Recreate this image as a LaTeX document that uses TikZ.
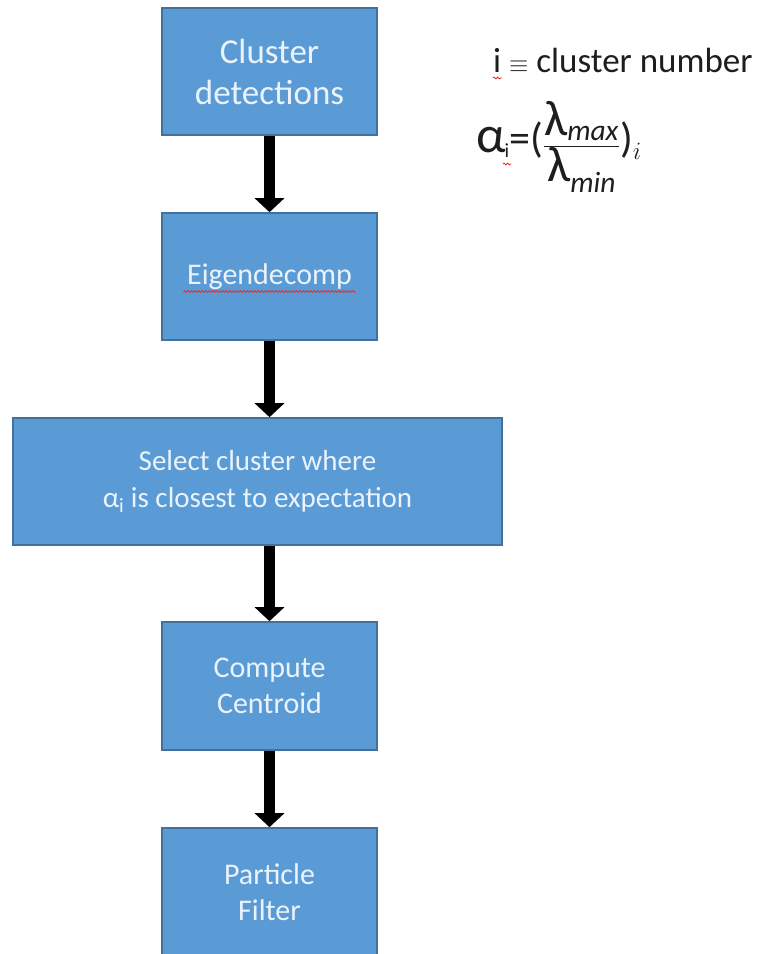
\documentclass[tikz,border=0pt]{standalone}
\usepackage{fontspec}
\setmainfont{Carlito}
\usetikzlibrary{arrows.meta,decorations.pathmorphing}
\definecolor{boxfill}{HTML}{5B9BD5}
\definecolor{boxline}{HTML}{41719C}
\definecolor{boxtext}{HTML}{EAF3FC}
\definecolor{legendtext}{HTML}{1E1E1E}
\definecolor{spellred}{HTML}{E03030}
\tikzset{
  stepbox/.style={draw=boxline, line width=1.6pt, fill=boxfill, text=boxtext,
    align=center, inner sep=0pt, font=\fontsize{30}{36}\selectfont},
  flow/.style={draw=black, line width=11pt,
    -{Triangle[width=29pt,length=14pt]}},
  spell/.style={draw=spellred, line width=0.9pt, decorate,
    decoration={snake, amplitude=0.9pt, segment length=3.5pt}}
}
\begin{document}
\begin{tikzpicture}[x=1pt,y=-1pt]
\useasboundingbox (0,0) rectangle (766,954);
\begin{scope}
\clip (0,0) rectangle (766,954);
\node[stepbox, minimum width=215pt, minimum height=127pt,
      font=\fontsize{35}{41}\selectfont] (n1) at (269.5,71.5) {Cluster\\detections};
\node[stepbox, minimum width=215pt, minimum height=127pt] (n2) at (269.5,276.5) {Eigendecomp};
\node[stepbox, minimum width=489pt, minimum height=127pt,
      font=\fontsize{29}{37}\selectfont] (n3) at (257.5,481.5)
      {Select cluster where\\α\textsubscript{i} is closest to expectation};
\node[stepbox, minimum width=215pt, minimum height=128pt] (n4) at (269.5,686) {Compute\\Centroid};
\node[stepbox, minimum width=215pt, minimum height=128pt] (n5) at (269.5,892) {Particle\\Filter};
\end{scope}
\draw[spell] ([xshift=-86pt,yshift=-15pt]n2.center) -- ([xshift=86pt,yshift=-15pt]n2.center);
\draw[flow] (n1.south) -- (n2.north);
\draw[flow] (n2.south) -- (n3.north -| n2.south);
\draw[flow] (n3.south -| n4.north) -- (n4.north);
\draw[flow] (n4.south) -- (n5.north);
\node[anchor=base west, inner sep=0pt, text=legendtext,
      font=\fontsize{35}{40}\selectfont] (leg) at (493,72) {i {\fontsize{40}{40}\selectfont\(\equiv\)} cluster number};
\draw[spell] ([yshift=-6pt]leg.base west) -- ++(9,0);
\node[anchor=base west, inner sep=0pt, text=legendtext,
      font=\fontsize{42}{48}\selectfont] (form) at (476,152)
      {{\fontsize{52}{52}\selectfont α}\kern-1pt{\fontsize{20}{20}\selectfont\raisebox{-5pt}{i}}=(\(\displaystyle\frac{\mbox{\fontsize{50}{50}\selectfont λ}_{\mathit{max}}}{\mbox{\fontsize{50}{50}\selectfont λ}_{\mathit{min}}}\))\(_{i}\)};
\draw[spell] ([xshift=27pt,yshift=-12pt]form.base west) -- ++(8,0);
\end{tikzpicture}
\end{document}
